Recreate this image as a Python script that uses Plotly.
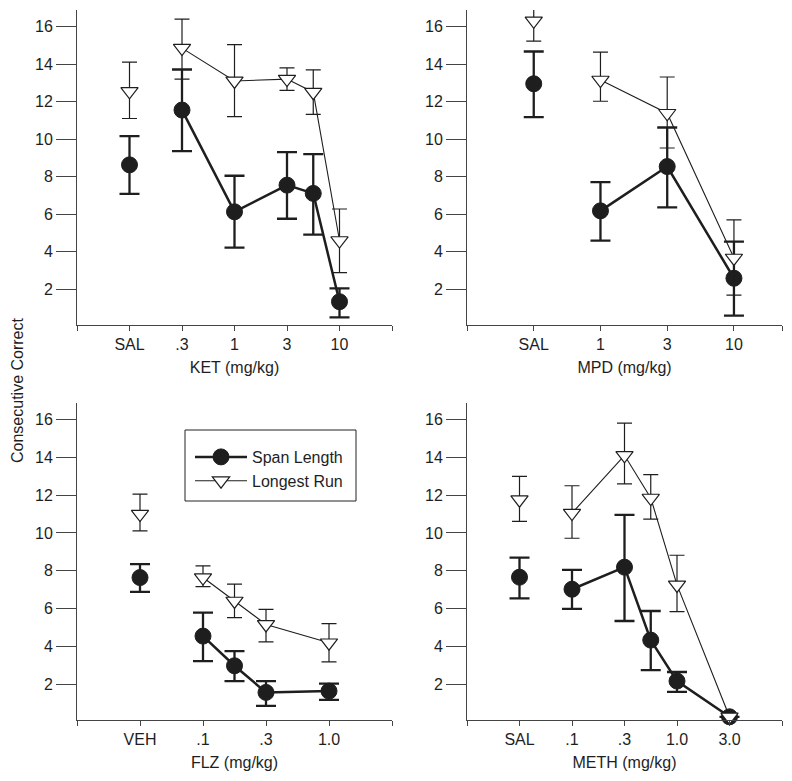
import plotly.graph_objects as go

# x positions on each dose axis (control first), tick labels per panel
ket_x = [1, 2, 3, 4, 4.5, 5]
ket_ticks = ["SAL", ".3", "1", "3", "10"]
ket_span = [8.63, 11.55, 6.13, 7.55, 7.11, 1.34]
ket_span_hi = [10.16, 13.71, 8.05, 9.31, 9.2, 2.05]
ket_span_lo = [7.08, 9.36, 4.22, 5.76, 4.91, 0.51]
ket_run = [12.55, 14.85, 13.1, 13.2, 12.5, 4.6]
ket_run_hi = [14.1, 16.39, 15.04, 13.8, 13.69, 6.28]
ket_run_lo = [11.1, 13.2, 11.2, 12.6, 11.32, 2.89]

mpd_x = [1, 2, 3, 4]
mpd_ticks = ["SAL", "1", "3", "10"]
mpd_span = [12.95, 6.18, 8.54, 2.59]
mpd_span_hi = [14.67, 7.71, 10.62, 4.54]
mpd_span_lo = [11.17, 4.59, 6.37, 0.6]
mpd_run = [16.3, 13.15, 11.38, 3.67]
mpd_run_hi = [17.4, 14.64, 13.31, 5.7]
mpd_run_lo = [15.22, 12.02, 9.53, 1.69]

flz_x = [1, 2, 2.5, 3, 4]
flz_ticks = ["VEH", ".1", ".3", "1.0"]
flz_span = [7.64, 4.54, 2.97, 1.56, 1.63]
flz_span_hi = [8.35, 5.78, 3.75, 2.16, 2.03]
flz_span_lo = [6.88, 3.22, 2.16, 0.85, 1.17]
flz_run = [11.0, 7.64, 6.4, 5.16, 4.19]
flz_run_hi = [12.06, 8.26, 7.29, 5.96, 5.2]
flz_run_lo = [10.11, 7.16, 5.52, 4.24, 3.18]

meth_x = [1, 2, 3, 3.5, 4, 5]
meth_ticks = ["SAL", ".1", ".3", "1.0", "3.0"]
meth_span = [7.66, 7.02, 8.19, 4.33, 2.16, 0.27]
meth_span_hi = [8.7, 8.05, 10.96, 5.87, 2.64, 0.27]
meth_span_lo = [6.54, 5.98, 5.34, 2.74, 1.59, 0.27]
meth_run = [11.76, 11.05, 14.11, 11.85, 7.25, 0.27]
meth_run_hi = [13.0, 12.5, 15.82, 13.09, 8.82, 0.27]
meth_run_lo = [10.61, 9.72, 12.6, 10.73, 5.84, 0.27]

INK = "#1e1e1e"
FONT = "Liberation Sans, Arial, sans-serif"

fig = go.Figure()


def add_series(xref, x, y, hi, lo, filled, legend):
    plus = [h - v for h, v in zip(hi, y)]
    minus = [v - l for l, v in zip(lo, y)]
    if filled:
        marker = dict(symbol="circle", size=16, color=INK, line=dict(color=INK, width=1))
        line = dict(color=INK, width=2.5)
        err = dict(thickness=2.3, width=10, color=INK)
        name = "Span Length"
    else:
        marker = dict(symbol="triangle-down", size=15, color="white", line=dict(color=INK, width=1.2))
        line = dict(color=INK, width=1.1)
        err = dict(thickness=1.2, width=7.5, color=INK)
        name = "Longest Run"
    ax = "" if xref == 1 else str(xref)
    # control point, not joined to the dose curve
    fig.add_trace(go.Scatter(
        x=x[:1], y=y[:1], mode="markers", marker=marker,
        error_y=dict(type="data", symmetric=False, array=plus[:1], arrayminus=minus[:1], **err),
        xaxis="x" + ax, yaxis="y" + ax, showlegend=False, name=name,
        cliponaxis=not (xref == 2 and not filled),
    ))
    fig.add_trace(go.Scatter(
        x=x[1:], y=y[1:], mode="lines+markers", marker=marker, line=line,
        error_y=dict(type="data", symmetric=False, array=plus[1:], arrayminus=minus[1:], **err),
        xaxis="x" + ax, yaxis="y" + ax, showlegend=legend, name=name,
        legendgroup=name, cliponaxis=False,
    ))


panels = [
    (1, ket_x, ket_span, ket_span_hi, ket_span_lo, ket_run, ket_run_hi, ket_run_lo),
    (2, mpd_x, mpd_span, mpd_span_hi, mpd_span_lo, mpd_run, mpd_run_hi, mpd_run_lo),
    (3, flz_x, flz_span, flz_span_hi, flz_span_lo, flz_run, flz_run_hi, flz_run_lo),
    (4, meth_x, meth_span, meth_span_hi, meth_span_lo, meth_run, meth_run_hi, meth_run_lo),
]
for k, x, s, sh, sl, r, rh, rl in panels:
    add_series(k, x, s, sh, sl, True, k == 3)
for k, x, s, sh, sl, r, rh, rl in panels:
    add_series(k, x, r, rh, rl, False, k == 3)

W, H = 792, 781
xdom_l = [77 / W, 392 / W]
xdom_r = [467 / W, 782 / W]
ydom_t = [1 - 325 / H, 1 - 10 / H]
ydom_b = [1 - 720 / H, 1 - 403 / H]

axis_font = dict(family=FONT, size=16, color=INK)


def xaxis(dom, anchor, labels, xmax, title):
    vals = [0] + list(range(1, len(labels) + 1)) + [xmax]
    return dict(
        domain=dom, anchor=anchor, range=[0, xmax], tickvals=vals,
        ticktext=[""] + labels + [""], ticks="outside", ticklen=5, tickwidth=1,
        tickcolor="#444", showline=True, linecolor="#444", linewidth=1,
        showgrid=False, zeroline=False, tickfont=axis_font,
        title=dict(text=title, font=axis_font, standoff=9),
    )


def yaxis(dom, anchor):
    return dict(
        domain=dom, anchor=anchor, range=[0.1, 16.88], tickvals=list(range(2, 17, 2)),
        ticks="outside", ticklen=20, tickwidth=1, tickcolor="#444",
        showline=True, linecolor="#444", linewidth=1, showgrid=False,
        zeroline=False, tickfont=axis_font,
    )


fig.update_layout(
    width=W, height=H, margin=dict(l=0, r=0, t=0, b=0),
    paper_bgcolor="white", plot_bgcolor="white",
    font=dict(family=FONT, color=INK),
    xaxis=xaxis(xdom_l, "y", ket_ticks, 6, "KET (mg/kg)"),
    yaxis=yaxis(ydom_t, "x"),
    xaxis2=xaxis(xdom_r, "y2", mpd_ticks, 4.72, "MPD (mg/kg)"),
    yaxis2=yaxis(ydom_t, "x2"),
    xaxis3=xaxis(xdom_l, "y3", flz_ticks, 5, "FLZ (mg/kg)"),
    yaxis3=yaxis(ydom_b, "x3"),
    xaxis4=xaxis(xdom_r, "y4", meth_ticks, 6, "METH (mg/kg)"),
    yaxis4=yaxis(ydom_b, "x4"),
    legend=dict(
        x=190 / W, y=1 - 440 / H, xanchor="left", yanchor="top",
        borderwidth=0, bgcolor="rgba(0,0,0,0)", itemwidth=52,
        font=dict(family=FONT, size=16, color=INK), tracegroupgap=0,
    ),
    shapes=[dict(
        type="rect", xref="paper", yref="paper", x0=185 / W, x1=356 / W,
        y0=1 - 501 / H, y1=1 - 430 / H, line=dict(color="#222", width=1),
        fillcolor="white", layer="below",
    )],
    annotations=[dict(
        text="Consecutive Correct", x=17 / W, y=1 - 390 / H, xref="paper", yref="paper",
        xanchor="center", yanchor="middle", textangle=-90, showarrow=False,
        font=dict(family=FONT, size=16, color=INK),
    )],
)

# drop the default page margin so the figure sits at the window corner
fig.write_html(
    "out.html",
    config={"displayModeBar": False},
    post_script="document.body.style.margin='0';",
)
